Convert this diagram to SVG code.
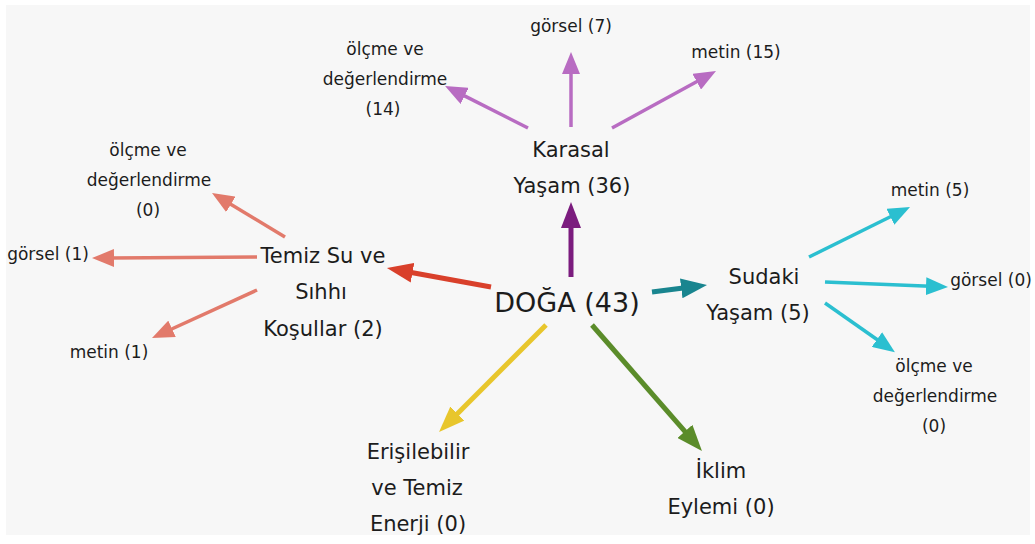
<svg xmlns="http://www.w3.org/2000/svg" width="1035" height="544" viewBox="0 0 1035 544">
<style>
text{font-family:"DejaVu Sans","Liberation Sans",sans-serif;fill:#1c1c1c;text-anchor:middle}
.s{font-size:17px}
.m{font-size:21px}
.c{font-size:27px}
line{fill:none}
.main{stroke-width:5}
.sub{stroke-width:3.5}
</style>
<defs>
<marker id="hPurple" markerUnits="userSpaceOnUse" markerWidth="26" markerHeight="20" refX="4" refY="10" orient="auto"><path d="M0,0 L26,10 L0,20 z" fill="#7b1c7e"/></marker>
<marker id="hRed" markerUnits="userSpaceOnUse" markerWidth="26" markerHeight="20" refX="4" refY="10" orient="auto"><path d="M0,0 L26,10 L0,20 z" fill="#d9402b"/></marker>
<marker id="hTeal" markerUnits="userSpaceOnUse" markerWidth="26" markerHeight="20" refX="4" refY="10" orient="auto"><path d="M0,0 L26,10 L0,20 z" fill="#19858f"/></marker>
<marker id="hYellow" markerUnits="userSpaceOnUse" markerWidth="26" markerHeight="20" refX="4" refY="10" orient="auto"><path d="M0,0 L26,10 L0,20 z" fill="#e8c62c"/></marker>
<marker id="hGreen" markerUnits="userSpaceOnUse" markerWidth="26" markerHeight="20" refX="4" refY="10" orient="auto"><path d="M0,0 L26,10 L0,20 z" fill="#5b8c2a"/></marker>
<marker id="hLilac" markerUnits="userSpaceOnUse" markerWidth="22" markerHeight="18" refX="4" refY="9" orient="auto"><path d="M0,0 L22,9 L0,18 z" fill="#b86cc2"/></marker>
<marker id="hSalmon" markerUnits="userSpaceOnUse" markerWidth="22" markerHeight="18" refX="4" refY="9" orient="auto"><path d="M0,0 L22,9 L0,18 z" fill="#e27a6b"/></marker>
<marker id="hCyan" markerUnits="userSpaceOnUse" markerWidth="22" markerHeight="18" refX="4" refY="9" orient="auto"><path d="M0,0 L22,9 L0,18 z" fill="#2bbfd0"/></marker>
</defs>
<rect x="0" y="0" width="1035" height="544" fill="#ffffff"/>
<rect x="6" y="5" width="1024" height="530" fill="#f7f7f7"/>

<g id="connectors">
<line class="main" x1="571" y1="277" x2="571" y2="224" stroke="#7b1c7e" marker-end="url(#hPurple)"/>
<line class="main" x1="491" y1="287" x2="408.6" y2="272" stroke="#d9402b" marker-end="url(#hRed)"/>
<line class="main" x1="652" y1="292" x2="685.2" y2="287.8" stroke="#19858f" marker-end="url(#hTeal)"/>
<line class="main" x1="546" y1="325" x2="454.6" y2="416.4" stroke="#e8c62c" marker-end="url(#hYellow)"/>
<line class="main" x1="592" y1="325" x2="687.5" y2="434.4" stroke="#5b8c2a" marker-end="url(#hGreen)"/>

<line class="sub" x1="571" y1="127" x2="571" y2="70" stroke="#b86cc2" marker-end="url(#hLilac)"/>
<line class="sub" x1="528" y1="128" x2="461.1" y2="94.1" stroke="#b86cc2" marker-end="url(#hLilac)"/>
<line class="sub" x1="612" y1="128" x2="700.2" y2="79.7" stroke="#b86cc2" marker-end="url(#hLilac)"/>

<line class="sub" x1="285" y1="237" x2="227.4" y2="202.3" stroke="#e27a6b" marker-end="url(#hSalmon)"/>
<line class="sub" x1="257" y1="257" x2="110" y2="258" stroke="#e27a6b" marker-end="url(#hSalmon)"/>
<line class="sub" x1="257" y1="290" x2="168.4" y2="330.5" stroke="#e27a6b" marker-end="url(#hSalmon)"/>

<line class="sub" x1="809" y1="257" x2="893.9" y2="215" stroke="#2bbfd0" marker-end="url(#hCyan)"/>
<line class="sub" x1="825" y1="282" x2="930" y2="286.3" stroke="#2bbfd0" marker-end="url(#hCyan)"/>
<line class="sub" x1="825" y1="303" x2="880.2" y2="341.8" stroke="#2bbfd0" marker-end="url(#hCyan)"/>
</g>

<g id="doga"><text class="c" x="567" y="312">DOĞA (43)</text></g>

<g id="karasal"><text class="m" x="571" y="157">Karasal</text><text class="m" x="572" y="193">Yaşam (36)</text></g>
<g id="karasal-gorsel"><text class="s" x="571" y="32">görsel (7)</text></g>
<g id="karasal-metin"><text class="s" x="736" y="58">metin (15)</text></g>
<g id="karasal-olcme"><text class="s" x="385" y="55">ölçme ve</text><text class="s" x="385" y="85">değerlendirme</text><text class="s" x="383" y="115">(14)</text></g>

<g id="temiz"><text class="m" x="323" y="263">Temiz Su ve</text><text class="m" x="321" y="299">Sıhhı</text><text class="m" x="323" y="336">Koşullar (2)</text></g>
<g id="temiz-olcme"><text class="s" x="148" y="156">ölçme ve</text><text class="s" x="149" y="186">değerlendirme</text><text class="s" x="148" y="216">(0)</text></g>
<g id="temiz-gorsel"><text class="s" x="48" y="260">görsel (1)</text></g>
<g id="temiz-metin"><text class="s" x="109" y="358">metin (1)</text></g>

<g id="sudaki"><text class="m" x="764" y="284">Sudaki</text><text class="m" x="758" y="320">Yaşam (5)</text></g>
<g id="sudaki-metin"><text class="s" x="930" y="196">metin (5)</text></g>
<g id="sudaki-gorsel"><text class="s" x="991" y="286">görsel (0)</text></g>
<g id="sudaki-olcme"><text class="s" x="934" y="372">ölçme ve</text><text class="s" x="935" y="402">değerlendirme</text><text class="s" x="934" y="432">(0)</text></g>

<g id="erisilebilir"><text class="m" x="418" y="459">Erişilebilir</text><text class="m" x="417" y="495">ve Temiz</text><text class="m" x="418" y="531">Enerji (0)</text></g>
<g id="iklim"><text class="m" x="721" y="478">İklim</text><text class="m" x="721" y="514">Eylemi (0)</text></g>
</svg>
